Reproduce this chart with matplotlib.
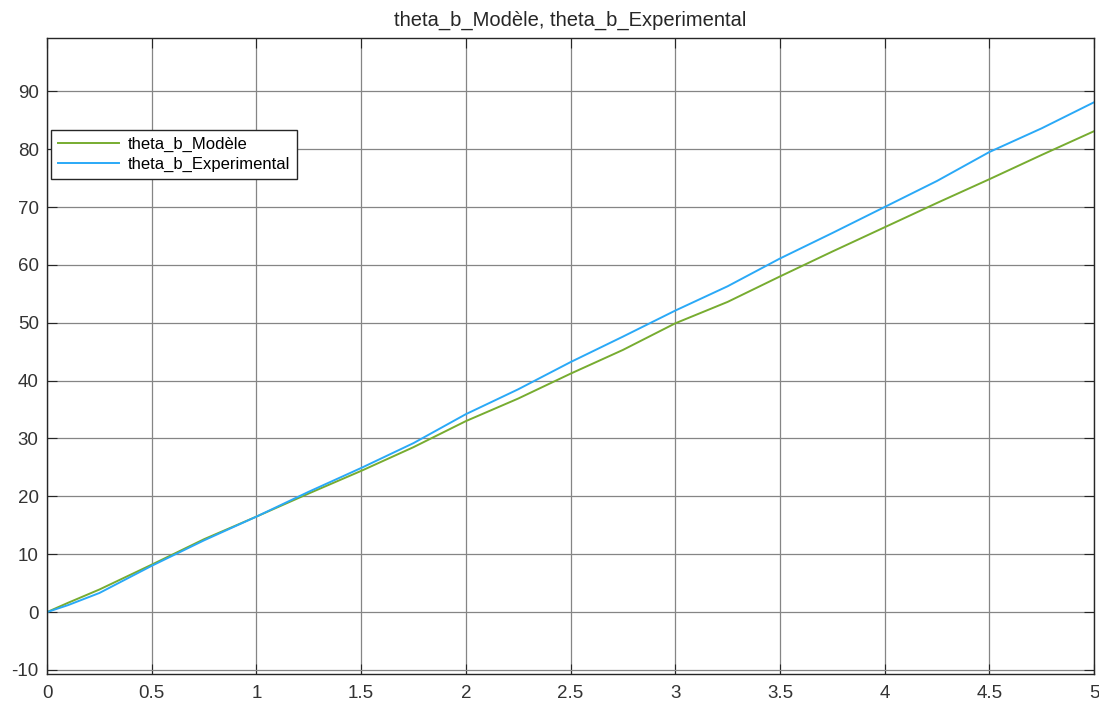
import matplotlib.pyplot as plt
import numpy as np

plt.rcParams['font.family'] = ['Liberation Sans', 'DejaVu Sans']
plt.rcParams['axes.unicode_minus'] = False

# time (s) and angle values
t = [0, 0.1, 0.25, 0.5, 0.75, 1.0, 1.25, 1.5, 1.75, 2.0, 2.25, 2.5, 2.75,
     3.0, 3.25, 3.5, 3.75, 4.0, 4.25, 4.5, 4.75, 5.0]
theta_modele = [0, 1.6, 3.9, 8.2, 12.6, 16.5, 20.5, 24.4, 28.5, 33.0, 36.9,
                41.2, 45.3, 49.9, 53.6, 58.0, 62.3, 66.5, 70.7, 74.8, 79.0, 83.1]
theta_exp = [0, 1.2, 3.3, 8.0, 12.4, 16.5, 20.8, 24.9, 29.2, 34.2, 38.5,
             43.2, 47.6, 52.1, 56.3, 61.1, 65.5, 70.0, 74.5, 79.5, 83.6, 88.1]

yticks = np.arange(-10, 100, 10)
xticks = np.arange(0, 5.5, 0.5)
xticklabels = ['0', '0.5', '1', '1.5', '2', '2.5', '3', '3.5', '4', '4.5', '5']

fig = plt.figure(figsize=(10.99, 7.08), dpi=100)
ax = fig.add_axes([0.0428, 0.048, 0.9527, 0.8983])

ax.plot(t, theta_modele, color='#77ac30', lw=1.4, label='theta_b_Modèle')
ax.plot(t, theta_exp, color='#2aa9f7', lw=1.4, label='theta_b_Experimental')

ax.set_xlim(0, 5)
ax.set_ylim(-10.7, 99.2)
ax.set_xticks(xticks)
ax.set_xticklabels(xticklabels)
ax.set_yticks(yticks)
ax.grid(True, color='#858585', lw=0.9)
ax.set_axisbelow(True)
ax.tick_params(direction='in', length=7, top=True, right=True,
               labelsize=13.5, labelcolor='#333333', color='#262626')
ax.tick_params(axis='x', pad=8)
ax.tick_params(axis='y', pad=6)
for s in ax.spines.values():
    s.set_color('#262626')
    s.set_linewidth(1.0)

ax.set_title('theta_b_Modèle, theta_b_Experimental', fontsize=14.5,
             color='#262626', pad=9)

leg = ax.legend(loc='upper left', bbox_to_anchor=(0.0038, 0.855), fontsize=12,
                frameon=True, fancybox=False, framealpha=1, edgecolor='#262626',
                handlelength=3.7, borderpad=0.4, labelspacing=0.3,
                handletextpad=0.5, borderaxespad=0)
leg.get_frame().set_linewidth(1.0)

fig.savefig('out.png', dpi=100)
